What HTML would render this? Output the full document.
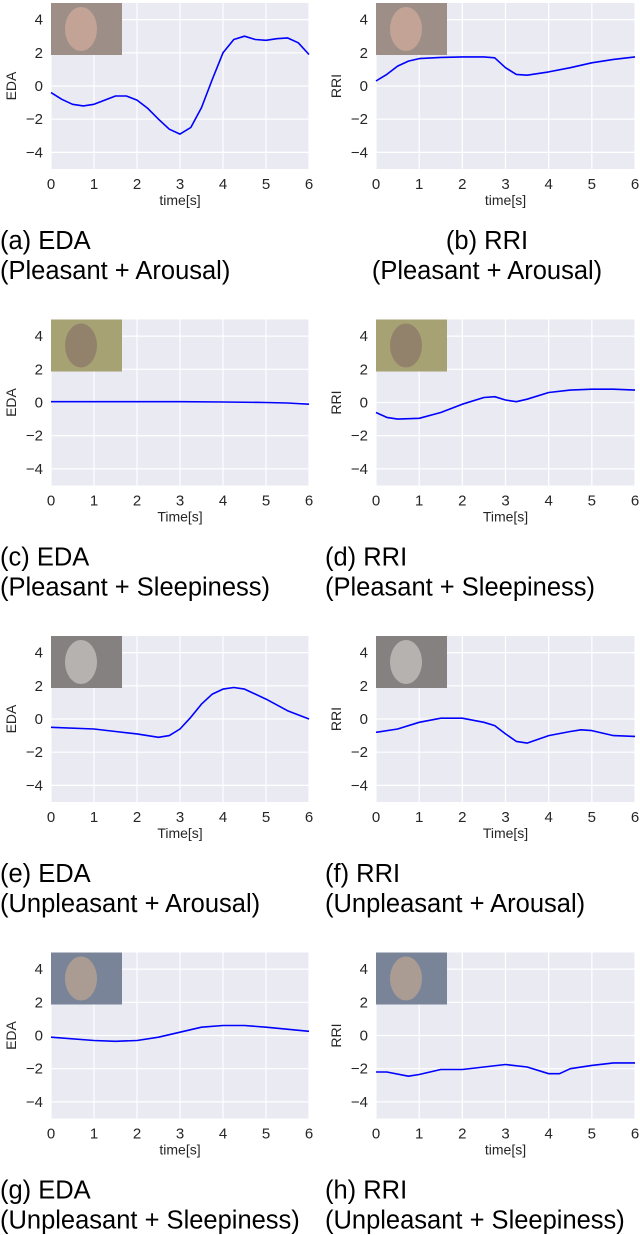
<!DOCTYPE html>
<html><head><meta charset="utf-8"><style>
body{margin:0;background:#fff;}
svg{display:block;font-family:"Liberation Sans",Arial,sans-serif;}
</style></head><body>
<svg id="fig" width="640" height="1235" viewBox="0 0 640 1235"></svg>
<script>
const timesA=[0,0.25,0.5,0.75,1,1.25,1.5,1.75,2,2.25,2.5,2.75,3,3.25,3.5,3.75,4,4.25,4.5,4.75,5,5.25,5.5,5.75,6];
const valsA=[-0.4,-0.8,-1.1,-1.2,-1.1,-0.85,-0.6,-0.6,-0.85,-1.35,-2.0,-2.6,-2.9,-2.5,-1.3,0.4,2.0,2.8,3.0,2.8,2.75,2.85,2.9,2.6,1.9];
const timesB=[0,0.25,0.5,0.75,1,1.5,2,2.5,2.75,3,3.25,3.5,4,4.5,5,5.5,6];
const valsB=[0.3,0.7,1.2,1.5,1.65,1.72,1.75,1.75,1.7,1.1,0.7,0.65,0.85,1.1,1.4,1.6,1.75];
const timesC=[0,1,2,3,4,5,5.5,6];
const valsC=[0.05,0.05,0.05,0.05,0.03,0.0,-0.03,-0.1];
const timesD=[0,0.25,0.5,1,1.5,2,2.5,2.75,3,3.25,3.5,4,4.5,5,5.5,6];
const valsD=[-0.6,-0.9,-1.0,-0.95,-0.6,-0.1,0.3,0.35,0.15,0.05,0.2,0.6,0.75,0.8,0.8,0.75];
const timesE=[0,1,1.5,2,2.5,2.75,3,3.25,3.5,3.75,4,4.25,4.5,5,5.5,6];
const valsE=[-0.5,-0.6,-0.75,-0.9,-1.1,-1.0,-0.6,0.1,0.9,1.5,1.8,1.9,1.8,1.2,0.5,0.0];
const timesF=[0,0.5,1,1.5,2,2.5,2.75,3,3.25,3.5,4,4.5,4.75,5,5.5,6];
const valsF=[-0.8,-0.6,-0.2,0.05,0.05,-0.2,-0.4,-0.9,-1.35,-1.45,-1.0,-0.75,-0.65,-0.7,-1.0,-1.05];
const timesG=[0,1,1.5,2,2.5,3,3.5,4,4.5,5,6];
const valsG=[-0.1,-0.3,-0.35,-0.3,-0.1,0.2,0.5,0.6,0.6,0.5,0.25];
const timesH=[0,0.25,0.75,1,1.5,2,2.5,3,3.5,4,4.25,4.5,5,5.5,6];
const valsH=[-2.2,-2.2,-2.45,-2.35,-2.05,-2.05,-1.9,-1.75,-1.9,-2.3,-2.3,-2.0,-1.8,-1.65,-1.65];
const xTicks=[0,1,2,3,4,5,6];
const yTicks=[4,2,0,-2,-4];
const panels=[
 {id:'a',t:timesA,v:valsA,yl:'EDA',xl:'time[s]',c1:'(a) EDA',c2:'(Pleasant + Arousal)',col:0,row:0,center:false,img:['#a08a80','#e8b29a']},
 {id:'b',t:timesB,v:valsB,yl:'RRI',xl:'time[s]',c1:'(b) RRI',c2:'(Pleasant + Arousal)',col:1,row:0,center:true,img:['#a08a80','#e8b29a']},
 {id:'c',t:timesC,v:valsC,yl:'EDA',xl:'Time[s]',c1:'(c) EDA',c2:'(Pleasant + Sleepiness)',col:0,row:1,center:false,img:['#b0a860','#8a6a50']},
 {id:'d',t:timesD,v:valsD,yl:'RRI',xl:'Time[s]',c1:'(d) RRI',c2:'(Pleasant + Sleepiness)',col:1,row:1,center:false,img:['#b0a860','#8a6a50']},
 {id:'e',t:timesE,v:valsE,yl:'EDA',xl:'Time[s]',c1:'(e) EDA',c2:'(Unpleasant + Arousal)',col:0,row:2,center:false,img:['#7a7674','#d8d4d0']},
 {id:'f',t:timesF,v:valsF,yl:'RRI',xl:'Time[s]',c1:'(f) RRI',c2:'(Unpleasant + Arousal)',col:1,row:2,center:false,img:['#7a7674','#d8d4d0']},
 {id:'g',t:timesG,v:valsG,yl:'EDA',xl:'time[s]',c1:'(g) EDA',c2:'(Unpleasant + Sleepiness)',col:0,row:3,center:false,img:['#6a7a98','#c8a890']},
 {id:'h',t:timesH,v:valsH,yl:'RRI',xl:'time[s]',c1:'(h) RRI',c2:'(Unpleasant + Sleepiness)',col:1,row:3,center:false,img:['#6a7a98','#c8a890']}
];
const NS='http://www.w3.org/2000/svg';
const svg=document.getElementById('fig');
function mk(tag,attrs,parent,text){const e=document.createElementNS(NS,tag);for(const k in attrs)e.setAttribute(k,attrs[k]);if(text!==undefined)e.textContent=text;(parent||svg).appendChild(e);return e;}
panels.forEach(p=>{
 const L=p.col?376:51, R=p.col?635:309;
 const T=3+p.row*316.5, B=T+166;
 const y0=T+83, unit=16.6;
 const xs=t=>L+(t/6)*(R-L);
 const ys=v=>y0-v*unit;
 const g=mk('g',{});
 
 
 const bg=mk('rect',{x:L,y:T,width:R-L,height:B-T,fill:'#eaeaf2'},g);
 
 
 xTicks.forEach(t=>{
  mk('line',{x1:xs(t),x2:xs(t),y1:T,y2:B,stroke:'#fff','stroke-width':1.2},g);
  const tl=mk('text',{x:xs(t),y:B+20,'text-anchor':'middle','font-size':15,fill:'#262626'},g,String(t));
  
  
 });
 yTicks.forEach(v=>{
  mk('line',{x1:L,x2:R,y1:ys(v),y2:ys(v),stroke:'#fff','stroke-width':1.2},g);
  const tl=mk('text',{x:L-8,y:ys(v)+5,'text-anchor':'end','font-size':15,fill:'#262626'},g,v<0?'\u2212'+(-v):String(v));
  
  
 });
 const im=mk('g',{},g);
 
 
 mk('rect',{x:L,y:T,width:71,height:52,fill:p.img[0]},im);
 mk('ellipse',{cx:L+30,cy:T+26,rx:16,ry:22,fill:p.img[1],opacity:0.8},im);
 mk('rect',{x:L,y:T,width:71,height:52,fill:'#999',opacity:0.35},im);
 const d=p.t.map((t,i)=>(i?'L':'M')+xs(t).toFixed(1)+','+ys(p.v[i]).toFixed(1)).join(' ');
 const ln=mk('path',{d:d,fill:'none',stroke:'#0000ff','stroke-width':1.6,'stroke-linejoin':'round'},g);
 
 
 const xl=mk('text',{x:(L+R)/2,y:B+36,'text-anchor':'middle','font-size':14,fill:'#262626'},g,p.xl);
 
 
 const yl=mk('text',{x:L-35,y:y0,'text-anchor':'middle','font-size':14,fill:'#262626',transform:'rotate(-90 '+(L-35)+' '+y0+')'},g,p.yl);
 
 
 const cx=p.col?(p.center?487:325):0;
 const anchor=p.center?'middle':'start';
 const c1=mk('text',{x:cx,y:T+246,'text-anchor':anchor,'font-size':25.5,fill:'#000'},g,p.c1);
 
 
 const c2=mk('text',{x:cx,y:T+276,'text-anchor':anchor,'font-size':25.5,fill:'#000'},g,p.c2);
 
 
});
</script>
</body></html>
